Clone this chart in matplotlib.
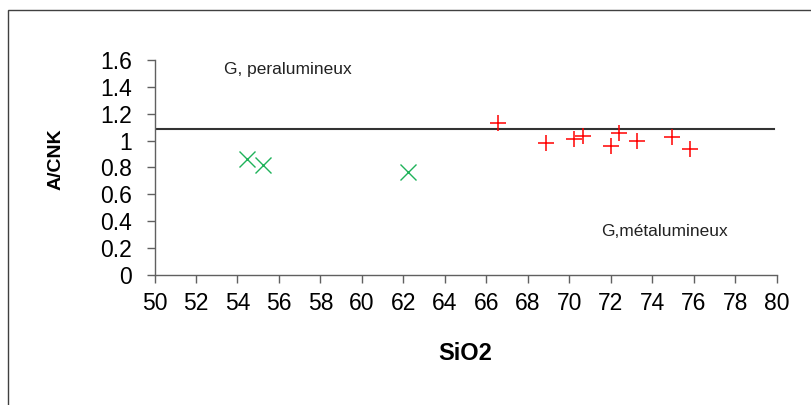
import matplotlib
matplotlib.use("Agg")
import matplotlib.pyplot as plt
from matplotlib.patches import Rectangle

plt.rcParams["font.family"] = ["Liberation Sans", "DejaVu Sans"]

# metaluminous group (green x)
sio2_green = [54.45, 55.22, 62.24]
acnk_green = [0.863, 0.82, 0.767]

# granites (red +)
sio2_red = [66.54, 68.89, 70.24, 70.67, 72.01, 72.38, 73.25, 74.95, 75.83]
acnk_red = [1.132, 0.985, 1.012, 1.037, 0.963, 1.059, 0.995, 1.027, 0.934]

limit_acnk = 1.088
x_ticks = list(range(50, 81, 2))
y_ticks = [0, 0.2, 0.4, 0.6, 0.8, 1.0, 1.2, 1.4, 1.6]
y_labels = ["0", "0.2", "0.4", "0.6", "0.8", "1", "1.2", "1.4", "1.6"]

fig = plt.figure(figsize=(8.12, 4.05), dpi=100)
ax = fig.add_axes([0.1903, 0.321, 0.7662, 0.531])

# outer frame, open on the right and bottom edges
fig.patches.append(Rectangle((7.5 / 812, -0.1), 1.2, 1 - 10.5 / 405 + 0.1,
                             transform=fig.transFigure, fill=False,
                             edgecolor="#404040", lw=1.0))

ax.plot([50.1, 79.85], [limit_acnk, limit_acnk], color="#333333", lw=1.5)
ax.plot(sio2_green, acnk_green, "x", color="#1fb25a", ms=11, mew=1.0, ls="none")
ax.plot(sio2_red, acnk_red, "+", color="#ff0000", ms=12, mew=1.1, ls="none")

ax.text(53.35, 1.53, "G, peralumineux", fontsize=12.5, color="#222222",
        va="center", ha="left")
ax.text(71.55, 0.32, "G,métalumineux", fontsize=12.5, color="#222222",
        va="center", ha="left")

ax.set_xlim(50, 80)
ax.set_ylim(0, 1.6)
ax.set_xticks(x_ticks)
ax.set_xticklabels([str(t) for t in x_ticks])
ax.set_yticks(y_ticks)
ax.set_yticklabels(y_labels)
ax.tick_params(axis="both", direction="out", length=6, width=1.0,
               color="#606060", labelsize=16.5, labelcolor="black")
ax.tick_params(axis="y", pad=10)
ax.tick_params(axis="x", pad=6)

for s in ["top", "right"]:
    ax.spines[s].set_visible(False)
for s in ["left", "bottom"]:
    ax.spines[s].set_color("#606060")
    ax.spines[s].set_linewidth(1.0)

ax.set_xlabel("SiO2", fontsize=17, fontweight="bold", labelpad=20)
ax.set_ylabel("A/CNK", fontsize=14, fontweight="bold")
ax.yaxis.set_label_coords(-0.144, 0.54)

fig.savefig("out.png", dpi=100)
